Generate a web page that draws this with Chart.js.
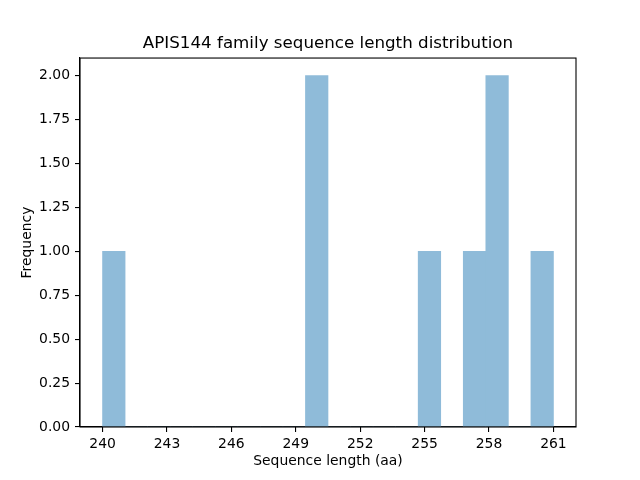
<!DOCTYPE html>
<html>
<head>
<meta charset="utf-8">
<script src="https://cdn.jsdelivr.net/npm/chart.js@4/dist/chart.umd.min.js"></script>
<style>
html,body{margin:0;padding:0;background:#fff;}
#wrap{width:640px;height:480px;}
</style>
</head>
<body>
<div id="wrap"><canvas id="c" width="640" height="480"></canvas></div>
<script>
// Histogram bin centers (20 bins of width 1.05 from 240 to 261)
const binCenters = [240.525, 241.575, 242.625, 243.675, 244.725, 245.775, 246.825, 247.875, 248.925, 249.975,
                    251.025, 252.075, 253.125, 254.175, 255.225, 256.275, 257.325, 258.375, 259.425, 260.475];
const counts = [1, 0, 0, 0, 0, 0, 0, 0, 0, 2,
                0, 0, 0, 0, 1, 0, 1, 2, 0, 1];
const xTicks = [240, 243, 246, 249, 252, 255, 258, 261];
const yTicks = [0, 0.25, 0.5, 0.75, 1.0, 1.25, 1.5, 1.75, 2.0];
const titleText = 'APIS144 family sequence length distribution';
const xLabel = 'Sequence length (aa)';
const yLabel = 'Frequency';

const FONT = "'DejaVu Sans', sans-serif";

const framePlugin = {
  id: 'frame',
  afterDatasetsDraw(chart) {
    const a = chart.chartArea, ctx = chart.ctx;
    ctx.save();
    ctx.strokeStyle = '#000';
    ctx.lineWidth = 1.1;
    ctx.strokeRect(a.left, a.top, a.right - a.left, a.bottom - a.top);
    ctx.restore();
  }
};

new Chart(document.getElementById('c'), {
  type: 'bar',
  data: {
    datasets: [{
      data: binCenters.map((x, i) => ({x: x, y: counts[i]})),
      backgroundColor: 'rgb(143,187,217)',
      borderWidth: 0,
      barPercentage: 1.0,
      categoryPercentage: 1.0
    }]
  },
  options: {
    responsive: false,
    animation: false,
    devicePixelRatio: 1,
    layout: {padding: {left: 0, right: 64, top: 0, bottom: 0}},
    plugins: {
      legend: {display: false},
      tooltip: {enabled: false},
      title: {
        display: true,
        fullSize: false,
        text: titleText,
        color: '#000',
        font: {family: FONT, size: 16.7, weight: 'normal'},
        padding: {top: 34, bottom: 4}
      }
    },
    scales: {
      x: {
        type: 'linear',
        offset: false,
        min: 238.95,
        max: 262.05,
        afterBuildTicks(scale) { scale.ticks = xTicks.map(v => ({value: v})); },
        afterFit(scale) { scale.height = 53; },
        ticks: {
          color: '#000',
          font: {family: FONT, size: 13.9},
          padding: 4,
          maxRotation: 0,
          autoSkip: false,
          callback: v => String(v)
        },
        grid: {display: true, offset: false, drawOnChartArea: false, drawTicks: true, tickLength: 5, color: '#000', lineWidth: 1.1},
        border: {display: true, color: '#000', width: 1.1},
        title: {
          display: true,
          text: xLabel,
          color: '#000',
          font: {family: FONT, size: 13.9},
          padding: {top: 0, bottom: 10}
        }
      },
      y: {
        min: 0,
        max: 2.1,
        afterBuildTicks(scale) { scale.ticks = yTicks.map(v => ({value: v})); },
        afterFit(scale) { scale.width = 80; },
        ticks: {
          color: '#000',
          font: {family: FONT, size: 13.9},
          padding: 5,
          autoSkip: false,
          callback: v => Number(v).toFixed(2)
        },
        grid: {display: true, offset: false, drawOnChartArea: false, drawTicks: true, tickLength: 5, color: '#000', lineWidth: 1.1},
        border: {display: true, color: '#000', width: 1.1},
        title: {
          display: true,
          text: yLabel,
          color: '#000',
          font: {family: FONT, size: 13.9},
          padding: {top: 19, bottom: 0}
        }
      }
    }
  },
  plugins: [framePlugin]
});
</script>
</body>
</html>
